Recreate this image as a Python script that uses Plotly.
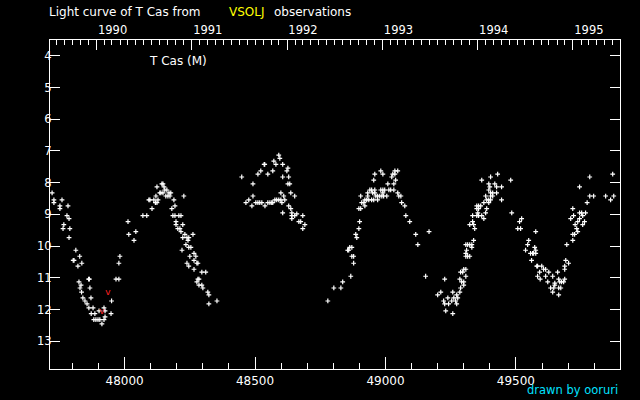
import plotly.graph_objects as go
from datetime import datetime, timedelta

# ---- data: JD-2400000 and visual magnitude ----
jd_a = [47722, 47729, 47729, 47760, 47752, 47752, 47783, 47779, 47787, 47767,
        47764, 47790, 47787, 47813, 47803, 47806, 47828, 47836, 47821, 47862,
        47865, 47825, 47833, 47829, 47867, 47835, 47840, 47871, 47848, 47856,
        47863, 47879, 47872, 47886, 47882, 47890, 47898, 47905, 47913, 47902,
        47921, 47925, 47921, 47925, 47948, 47950, 47967, 47978, 47978, 47982,
        48013, 48016, 48043, 48036, 48070, 48085, 48093]
mag_a = [8.32, 8.54, 8.63, 8.54, 8.73, 8.82, 8.73, 9.04, 9.13, 9.32,
         9.45, 9.45, 9.73, 10.13, 10.45, 10.45, 10.32, 10.54, 10.63, 11.04,
         11.04, 11.13, 11.23, 11.32, 11.32, 11.45, 11.63, 11.63, 11.73, 11.82,
         11.95, 11.95, 12.13, 12.13, 12.32, 12.32, 12.32, 12.32, 12.45, 12.04,
         11.95, 12.04, 12.32, 12.23, 12.13, 11.73, 11.04, 11.04, 10.54, 10.32,
         9.23, 9.63, 9.54, 9.82, 9.04, 9.04, 8.54]

jd_b = [48105, 48097, 48112, 48128, 48118, 48124, 48124, 48120, 48143, 48147,
        48151, 48154, 48162, 48135, 48139, 48147, 48170, 48177, 48158, 48166,
        48174, 48189, 48227, 48193, 48181, 48185, 48193, 48208, 48216, 48197,
        48197, 48204, 48212, 48216, 48223, 48231, 48223, 48239, 48246, 48243,
        48262, 48235, 48246, 48254, 48220, 48266, 48250, 48273, 48266, 48239,
        48246, 48277, 48281, 48266, 48296, 48311, 48281, 48285, 48277, 48285,
        48296, 48300, 48319, 48323, 48354, 48323]
mag_b = [8.82, 8.54, 8.54, 8.54, 8.63, 8.63, 8.13, 8.42, 8.04, 8.04,
         8.13, 8.23, 8.23, 8.32, 8.32, 8.32, 8.32, 8.32, 8.42, 8.42,
         8.42, 8.54, 8.42, 8.73, 8.82, 9.04, 9.04, 9.04, 9.04, 9.23,
         9.32, 9.45, 9.45, 9.54, 9.32, 9.63, 9.73, 9.73, 9.73, 9.82,
         9.63, 9.95, 10.04, 10.04, 10.13, 10.23, 10.32, 10.32, 10.45, 10.54,
         10.63, 10.54, 10.54, 10.73, 10.82, 10.82, 11.04, 11.04, 11.13, 11.23,
         11.23, 11.32, 11.45, 11.54, 11.73, 11.82]

jd_c = [48449, 48591, 48595, 48572, 48580, 48606, 48535, 48537, 48626, 48622,
        48522, 48568, 48511, 48549, 48629, 48606, 48492, 48626, 48633, 48599,
        48637, 48610, 48652, 48492, 48476, 48576, 48583, 48591, 48599, 48614,
        48465, 48503, 48511, 48518, 48526, 48549, 48557, 48564, 48568, 48603,
        48629, 48488, 48538, 48637, 48641, 48606, 48641, 48652, 48660, 48683,
        48641, 48668, 48675, 48691, 48683]
mag_c = [7.82, 7.13, 7.23, 7.32, 7.42, 7.42, 7.42, 7.42, 7.54, 7.63,
         7.63, 7.63, 7.73, 7.73, 7.82, 7.82, 8.04, 8.04, 8.04, 8.32,
         8.32, 8.42, 8.42, 8.42, 8.54, 8.54, 8.54, 8.54, 8.54, 8.54,
         8.63, 8.63, 8.63, 8.63, 8.63, 8.63, 8.63, 8.63, 8.63, 8.63,
         8.73, 8.73, 8.73, 8.82, 8.95, 8.95, 9.04, 9.04, 8.98, 9.04,
         9.13, 9.23, 9.23, 9.32, 9.45]

jd_d = [48982, 49036, 49047, 49036, 48959, 48990, 49028, 49024, 48955, 49039,
        49009, 49032, 48940, 48947, 48959, 48982, 48990, 48997, 49013, 49020,
        49032, 48932, 48951, 48959, 48990, 49047, 48905, 48932, 48963, 48970,
        48978, 48986, 48993, 49005, 49051, 49059, 48921, 48928, 48936, 48947,
        48955, 48970, 48909, 48917, 48921, 49062, 49074, 48898, 48905, 49078,
        49093, 48901, 48898, 48886, 48890, 49116, 49124, 48863, 48871, 48855,
        48859, 48871, 48878, 48878, 48867, 49154, 48836, 48802, 48829, 48779,
        49167]
mag_d = [7.63, 7.63, 7.63, 7.73, 7.73, 7.73, 7.73, 7.82, 7.92, 7.92,
         8.04, 8.04, 8.23, 8.23, 8.23, 8.23, 8.23, 8.23, 8.23, 8.23,
         8.23, 8.32, 8.32, 8.32, 8.32, 8.32, 8.42, 8.42, 8.42, 8.42,
         8.42, 8.42, 8.42, 8.42, 8.42, 8.42, 8.54, 8.54, 8.54, 8.54,
         8.54, 8.54, 8.63, 8.63, 8.73, 8.63, 8.73, 8.82, 8.82, 9.04,
         9.23, 9.23, 9.45, 9.63, 9.73, 9.63, 9.95, 10.04, 10.04, 10.13,
         10.13, 10.32, 10.32, 10.54, 10.95, 10.95, 11.13, 11.32, 11.32, 11.73,
         9.54]

jd_e = [49430, 49403, 49369, 49480, 49396, 49400, 49419, 49426, 49445, 49396,
        49403, 49411, 49426, 49403, 49411, 49384, 49388, 49396, 49403, 49445,
        49377, 49396, 49350, 49357, 49365, 49350, 49357, 49388, 49354, 49384,
        49334, 49350, 49357, 49369, 49377, 49334, 49323, 49338, 49342, 49484,
        49522, 49514, 49507, 49518, 49338, 49308, 49315, 49323, 49331, 49331,
        49311, 49308, 49308, 49315, 49323, 49300, 49308, 49288, 49296, 49308,
        49285, 49227, 49292, 49300, 49300, 49288, 49212, 49258, 49285, 49200,
        49273, 49239, 49262, 49277, 49223, 49254, 49269, 49227, 49242, 49273,
        49231, 49258]
mag_e = [7.73, 7.82, 7.92, 7.92, 8.04, 8.13, 8.04, 8.13, 8.13, 8.23,
         8.32, 8.32, 8.32, 8.42, 8.42, 8.42, 8.54, 8.54, 8.54, 8.54,
         8.63, 8.63, 8.73, 8.73, 8.73, 8.82, 8.82, 8.82, 8.95, 8.95,
         9.04, 9.04, 9.04, 9.04, 9.13, 9.23, 9.32, 9.32, 9.45, 8.95,
         9.13, 9.23, 9.45, 9.45, 9.82, 9.95, 9.95, 9.95, 9.95, 10.04,
         10.13, 10.23, 10.32, 10.32, 10.32, 10.73, 10.73, 10.82, 10.82, 10.95,
         11.04, 11.04, 11.13, 11.13, 11.23, 11.32, 11.45, 11.45, 11.45, 11.54,
         11.54, 11.63, 11.63, 11.63, 11.73, 11.73, 11.73, 11.82, 11.82, 11.82,
         12.04, 12.13]

jd_f = [49549, 49545, 49537, 49556, 49564, 49560, 49871, 49783, 49744, 49783,
        49798, 49844, 49875, 49863, 49773, 49718, 49744, 49752, 49767, 49721,
        49756, 49710, 49744, 49737, 49763, 49727, 49756, 49733, 49737, 49718,
        49725, 49718, 49695, 49576, 49572, 49576, 49568, 49576, 49691, 49702,
        49687, 49687, 49580, 49583, 49599, 49606, 49614, 49591, 49626, 49660,
        49583, 49614, 49641, 49593, 49664, 49687, 49683, 49675, 49668, 49622,
        49649, 49649, 49645, 49664, 49672, 49633, 49641, 49664]
mag_f = [9.82, 9.95, 10.13, 10.23, 10.23, 10.45, 7.73, 7.82, 8.13, 8.42,
         8.42, 8.42, 8.42, 8.54, 8.63, 8.82, 8.95, 8.95, 8.95, 9.04,
         9.04, 9.13, 9.13, 9.23, 9.23, 9.32, 9.32, 9.45, 9.54, 9.63,
         9.63, 9.82, 9.95, 9.54, 10.04, 10.13, 10.23, 10.23, 10.45, 10.54,
         10.63, 10.73, 10.63, 10.63, 10.63, 10.73, 10.73, 10.82, 10.82, 10.82,
         10.95, 10.95, 10.95, 11.04, 11.04, 11.04, 11.13, 11.13, 11.13, 11.13,
         11.17, 11.23, 11.32, 11.32, 11.32, 11.32, 11.45, 11.54]

# fainter-than (upper limit) observations
jd_lim = [47936, 47913]
mag_lim = [11.47, 12.06]

x_range = [47714, 49899]
y_range = [13.875, 3.5]
x_tickvals = [48000, 48500, 49000, 49500]
x_ticktext = ["48000", "48500", "49000", "49500"]
y_tickvals = [4, 5, 6, 7, 8, 9, 10, 11, 12, 13]
y_ticktext = [str(v) for v in y_tickvals]

# JD-2400000 -> calendar date (for the year axis on top)
MJD0 = datetime(1858, 11, 17)


def jd_to_date(j):
    return (MJD0 + timedelta(days=j - 0.5)).strftime("%Y-%m-%d %H:%M:%S")


jd_all = jd_a + jd_b + jd_c + jd_d + jd_e + jd_f
mag_all = mag_a + mag_b + mag_c + mag_d + mag_e + mag_f

FONT = "DejaVu Sans"
FS = 12

fig = go.Figure()
fig.add_trace(go.Scatter(
    x=jd_all, y=mag_all, mode="markers",
    marker=dict(symbol="cross-thin", size=3.4, color="white",
                line=dict(width=1.2, color="white")),
    hoverinfo="skip"))
fig.add_trace(go.Scatter(
    x=jd_lim, y=mag_lim, mode="text", text=["v"] * len(jd_lim),
    textfont=dict(family=FONT, size=9, color="#ff2020"),
    textposition="middle center", hoverinfo="skip"))
# same observations placed on the calendar (top) axis, invisible: keeps that axis drawn
fig.add_trace(go.Scatter(
    x=[jd_to_date(j) for j in jd_all], y=mag_all, mode="markers",
    xaxis="x2", yaxis="y", marker=dict(opacity=0, size=1),
    hoverinfo="skip"))

fig.update_layout(
    width=640, height=400,
    margin=dict(l=50, r=20, t=40, b=28),
    paper_bgcolor="black", plot_bgcolor="black",
    showlegend=False,
    font=dict(family=FONT, size=FS, color="white"),
    xaxis=dict(
        range=x_range, tickvals=x_tickvals, ticktext=x_ticktext,
        ticks="inside", ticklen=12, tickwidth=1, tickcolor="white",
        showline=True, linecolor="white", linewidth=1, mirror=True,
        showgrid=False, zeroline=False, ticklabelstandoff=1,
        tickfont=dict(family=FONT, size=12, color="white"),
        minor=dict(tick0=48000, dtick=100, ticks="inside", ticklen=6,
                   tickcolor="white", tickwidth=1, showgrid=False),
    ),
    xaxis2=dict(
        type="date", overlaying="x", side="top", anchor="y",
        range=[jd_to_date(x_range[0]), jd_to_date(x_range[1])],
        tick0="1990-01-01", dtick="M12", tickformat="%Y",
        ticks="inside", ticklen=10, tickwidth=1, tickcolor="white",
        ticklabelshift=16, ticklabelstandoff=3,
        showline=False, showgrid=False, zeroline=False,
        tickfont=dict(family=FONT, size=11.5, color="white"),
        minor=dict(dtick="M1", ticks="inside", ticklen=5, tickcolor="white",
                   tickwidth=1, showgrid=False),
    ),
    yaxis=dict(
        range=y_range, tickvals=y_tickvals, ticktext=y_ticktext,
        ticks="inside", ticklen=10, tickwidth=1, tickcolor="white",
        showline=True, linecolor="white", linewidth=1, mirror="ticks",
        showgrid=False, zeroline=False, ticklabelstandoff=-5,
        tickfont=dict(family=FONT, size=11.5, color="white"),
    ),
)

fig.add_annotation(text="Light curve of T Cas from", xref="paper", yref="paper",
                   x=-0.0053, y=1.084, xanchor="left", yanchor="middle", showarrow=False,
                   font=dict(family=FONT, size=FS, color="white"))
fig.add_annotation(text="VSOLJ", xref="paper", yref="paper",
                   x=0.3105, y=1.084, xanchor="left", yanchor="middle", showarrow=False,
                   font=dict(family=FONT, size=FS, color="#ffff00"))
fig.add_annotation(text="observations", xref="paper", yref="paper",
                   x=0.3895, y=1.084, xanchor="left", yanchor="middle", showarrow=False,
                   font=dict(family=FONT, size=FS, color="white"))
fig.add_annotation(text="T Cas (M)", xref="paper", yref="paper",
                   x=0.1702, y=0.9367, xanchor="left", yanchor="middle", showarrow=False,
                   font=dict(family=FONT, size=FS, color="white"))
fig.add_annotation(text="drawn by ooruri", xref="paper", yref="paper",
                   x=1.0, y=-0.063, xanchor="right", yanchor="middle", showarrow=False,
                   font=dict(family=FONT, size=11.5, color="#00e0ff"))

fig.write_html("out.html", config={"displayModeBar": False},
               post_script="document.body.style.margin='0';")
